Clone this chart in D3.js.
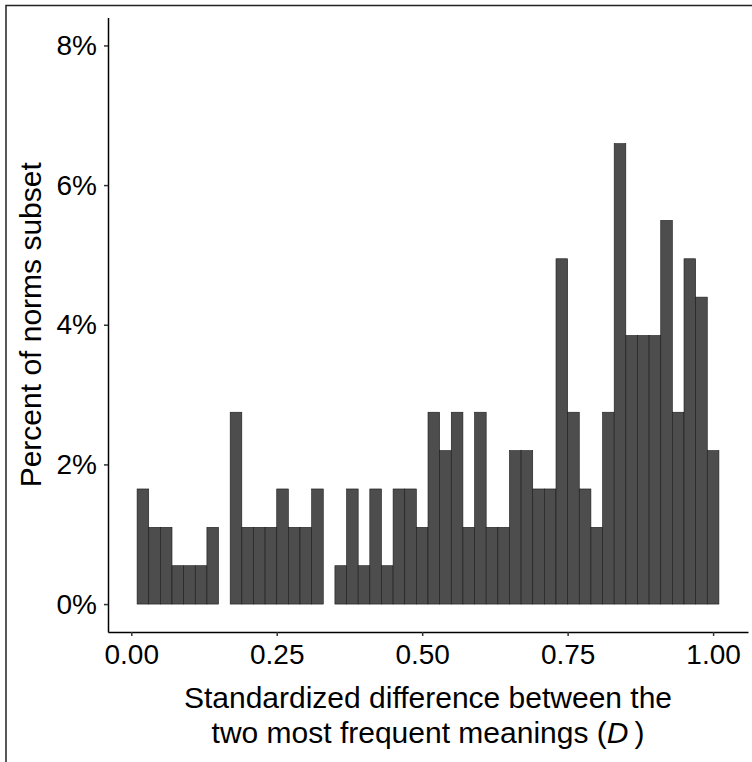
<!DOCTYPE html>
<html>
<head>
    <title>Histogram of D</title>
    <meta charset="utf-8">
    <style>
        body { margin: 0; background: #fff; }
    </style>
</head>
<body>

<svg id="svg"></svg>
<script src="https://cdn.jsdelivr.net/npm/d3@7"></script>
<script>
    // counts per bin (binwidth 0.02, first bin starts at 0.01)
    const binCounts = [3, 2, 2, 1, 1, 1, 2, 0, 5, 2,
                       2, 2, 3, 2, 2, 3, 0, 1, 3, 1,
                       3, 1, 3, 3, 2, 5, 4, 5, 2, 5,
                       2, 2, 4, 4, 3, 3, 9, 5, 3, 2,
                       5, 12, 7, 7, 7, 10, 5, 9, 8, 4]
    const binStart = 0.01
    const binWidth = 0.02
    const xTicks = [0, 0.25, 0.5, 0.75, 1]
    const yTicks = [0, 2, 4, 6, 8]

    const WIDTH = 752
    const HEIGHT = 762
    const FONT = "'Liberation Sans', Arial, sans-serif"

    const total = d3.sum(binCounts)
    const bins = binCounts.map((c, i) => ({
        x0: binStart + i * binWidth,
        x1: binStart + (i + 1) * binWidth,
        pct: c / total * 100
    }))

    const svg = d3.select('svg')
        .attr('width', WIDTH)
        .attr('height', HEIGHT)
        .style('display', 'block')

    // outer frame (top and left edges of the cropped figure)
    svg.append('path')
        .attr('d', 'M6,762 V5.5 H752')
        .attr('fill', 'none')
        .attr('stroke', '#222')
        .attr('stroke-width', 1.5)

    const x = d3.scaleLinear().domain([-0.04, 1.06]).range([108, 748])
    const y = d3.scaleLinear().domain([-0.4, 8.4]).range([632, 17.5])

    svg.append('g')
        .selectAll('rect')
        .data(bins)
        .enter().append('rect')
        .attr('x', d => x(d.x0))
        .attr('width', d => x(d.x1) - x(d.x0))
        .attr('y', d => y(d.pct))
        .attr('height', d => y(0) - y(d.pct))
        .attr('fill', '#4d4d4d')
        .attr('stroke', '#1a1a1a')
        .attr('stroke-width', 0.6)

    const xAxis = svg.append('g')
        .attr('transform', `translate(0,${y.range()[0]})`)
        .call(d3.axisBottom(x).tickValues(xTicks).tickFormat(d3.format('.2f'))
            .tickSize(4).tickSizeOuter(0).tickPadding(8))

    const yAxis = svg.append('g')
        .attr('transform', `translate(${x.range()[0]},0)`)
        .call(d3.axisLeft(y).tickValues(yTicks).tickFormat(d => d + '%')
            .tickSize(4).tickSizeOuter(0).tickPadding(7))

    for (const ax of [xAxis, yAxis]) {
        ax.select('.domain').attr('stroke', '#000').attr('stroke-width', 1.5)
        ax.selectAll('.tick line').attr('stroke', '#333').attr('stroke-width', 1.5)
        ax.selectAll('.tick text')
            .attr('fill', '#000')
            .attr('font-family', FONT)
            .attr('font-size', 28)
    }

    // y title
    svg.append('text')
        .attr('transform', `translate(41,${(y.range()[0] + y.range()[1]) / 2}) rotate(-90)`)
        .attr('text-anchor', 'middle')
        .attr('font-family', FONT)
        .attr('font-size', 30)
        .attr('fill', '#000')
        .text('Percent of norms subset')

    // x title, two lines
    const cx = (x.range()[0] + x.range()[1]) / 2
    svg.append('text')
        .attr('x', cx).attr('y', 708)
        .attr('text-anchor', 'middle')
        .attr('font-family', FONT)
        .attr('font-size', 30)
        .attr('fill', '#000')
        .text('Standardized difference between the')

    const line2 = svg.append('text')
        .attr('x', cx).attr('y', 743)
        .attr('text-anchor', 'middle')
        .attr('font-family', FONT)
        .attr('font-size', 30)
        .attr('fill', '#000')
    line2.append('tspan').text('two most frequent meanings (')
    line2.append('tspan').attr('font-style', 'italic').text('D')
    line2.append('tspan').text('\u2009)')
</script>
</body>
</html>
